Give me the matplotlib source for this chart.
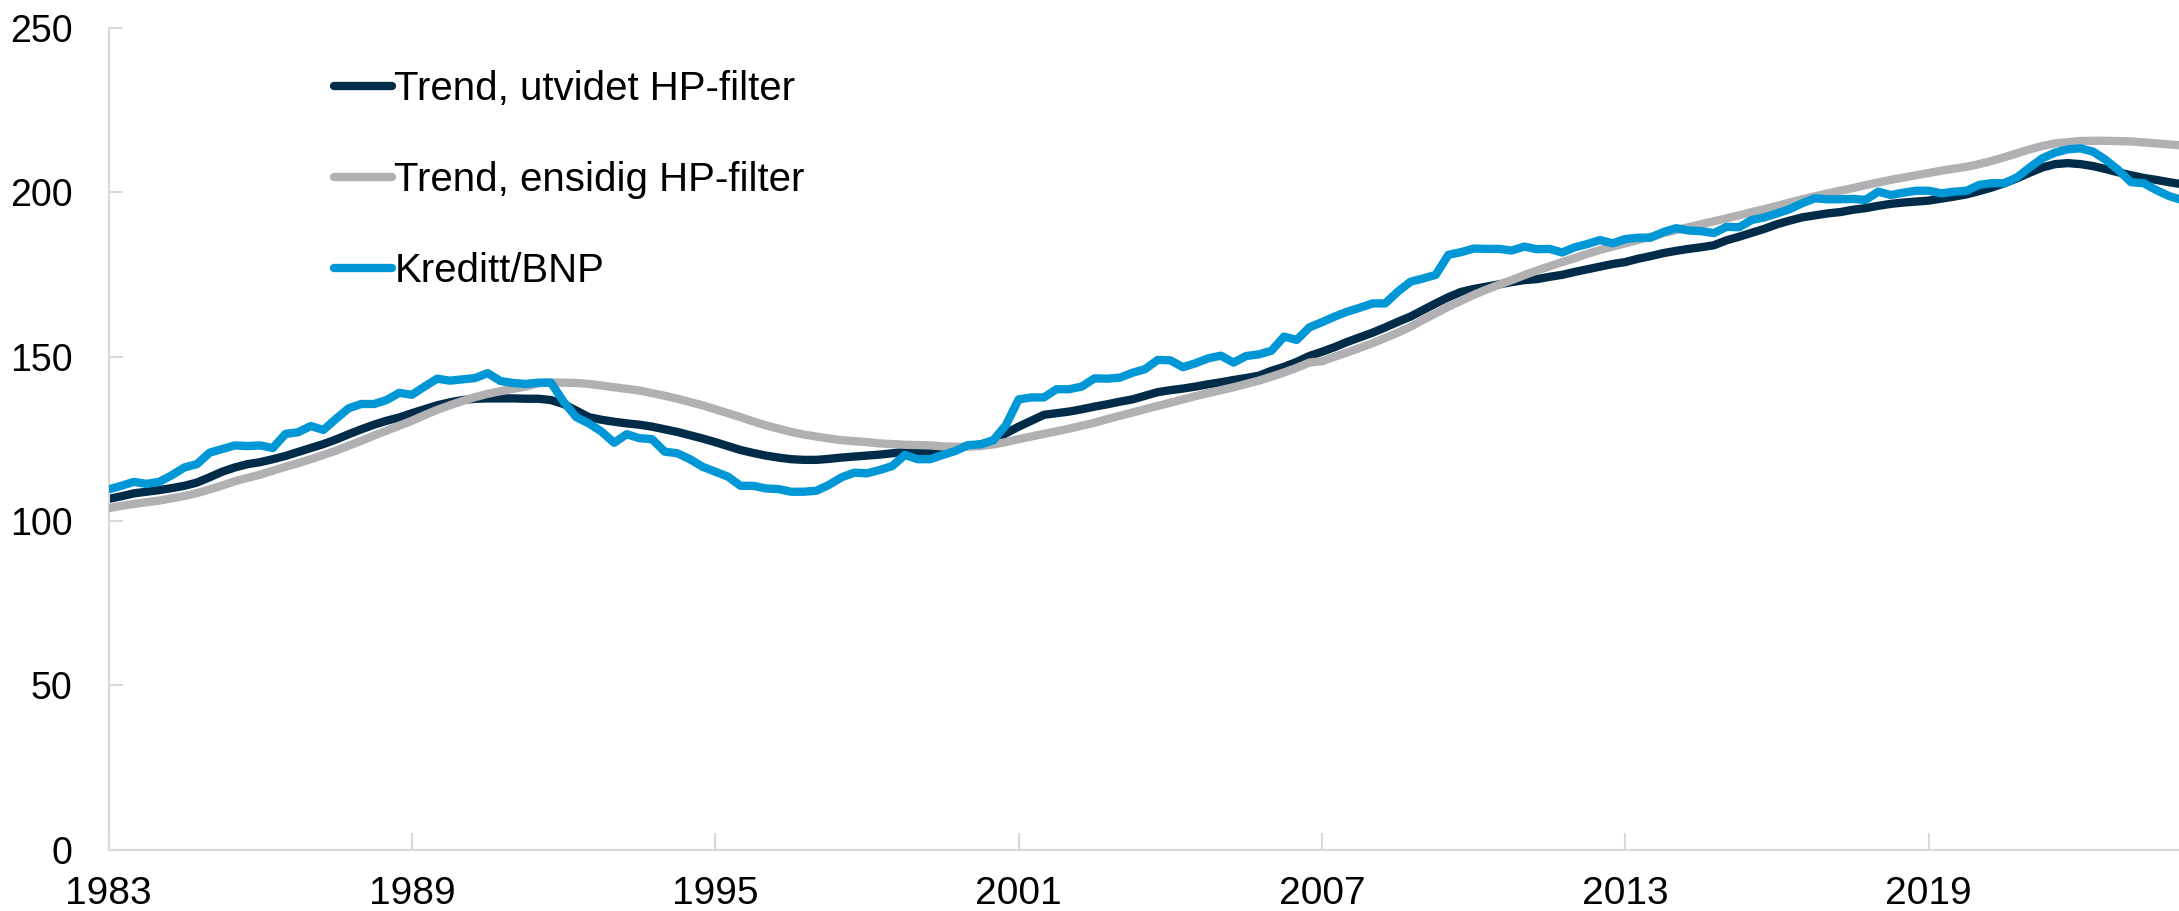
import matplotlib
matplotlib.use("Agg")
import matplotlib.pyplot as plt
import numpy as np

plt.rcParams['font.family'] = ['Liberation Sans', 'DejaVu Sans']

start_year = 1983
tick_years = [1983, 1989, 1995, 2001, 2007, 2013, 2019]

trend_utvidet = [
    106.7, 107.5, 108.4, 108.9, 109.4, 110.0, 110.7, 111.7, 113.3, 115.0,
    116.3, 117.3, 117.9, 118.8, 119.8, 121.0, 122.2, 123.4, 124.8, 126.4,
    127.9, 129.3, 130.5, 131.5, 132.8, 134.0, 135.2, 136.1, 136.8, 137.2,
    137.3, 137.3, 137.3, 137.2, 137.2, 136.8, 135.6, 133.6, 131.6, 130.8,
    130.2, 129.7, 129.3, 128.7, 127.9, 127.1, 126.1, 125.1, 124.0, 122.8,
    121.6, 120.7, 119.9, 119.3, 118.8, 118.6, 118.6, 118.9, 119.3, 119.6,
    119.9, 120.2, 120.6, 121.1, 121.1, 121.1, 121.4, 122.1, 122.8, 123.3,
    124.4, 126.7, 128.7, 130.5, 132.3, 132.8, 133.3, 134.0, 134.8, 135.5,
    136.3, 137.0, 138.1, 139.2, 139.8, 140.3, 140.9, 141.6, 142.2, 142.9,
    143.5, 144.2, 145.7, 146.9, 148.4, 150.2, 151.5, 152.9, 154.5, 155.9,
    157.3, 158.9, 160.6, 162.2, 164.2, 166.2, 168.1, 169.7, 170.6, 171.3,
    172.0, 172.7, 173.3, 173.6, 174.3, 174.9, 175.8, 176.6, 177.4, 178.2,
    178.8, 179.8, 180.6, 181.5, 182.2, 182.8, 183.3, 183.9, 185.4, 186.5,
    187.7, 188.9, 190.3, 191.4, 192.4, 193.0, 193.6, 194.0, 194.7, 195.2,
    195.9, 196.5, 196.9, 197.2, 197.5, 198.1, 198.7, 199.4, 200.4, 201.5,
    202.8, 204.3, 206.0, 207.6, 208.6, 208.9, 208.6, 208.0, 207.1, 206.1,
    205.2, 204.4, 203.8, 203.1, 202.5,
]

trend_ensidig = [
    103.9, 104.6, 105.2, 105.7, 106.2, 106.9, 107.6, 108.5, 109.6, 110.8,
    112.1, 113.1, 114.1, 115.3, 116.5, 117.6, 118.8, 120.1, 121.4, 122.9,
    124.4, 126.0, 127.5, 129.0, 130.5, 132.2, 133.8, 135.2, 136.5, 137.7,
    138.7, 139.5, 140.2, 140.9, 141.9, 142.1, 142.1, 142.0, 141.7, 141.2,
    140.7, 140.2, 139.7, 138.9, 138.1, 137.2, 136.2, 135.2, 134.0, 132.8,
    131.6, 130.3, 129.1, 128.1, 127.1, 126.3, 125.7, 125.1, 124.6, 124.3,
    124.0, 123.6, 123.4, 123.2, 123.1, 123.0, 122.7, 122.6, 122.6, 122.8,
    123.3, 124.0, 124.9, 125.7, 126.5, 127.3, 128.1, 129.0, 129.9, 131.0,
    132.0, 133.0, 134.0, 135.0, 136.0, 137.0, 138.0, 138.9, 139.8, 140.7,
    141.7, 142.7, 143.9, 145.2, 146.6, 148.2, 148.6, 150.0, 151.3, 152.7,
    154.1, 155.7, 157.3, 159.1, 161.2, 163.2, 165.2, 167.0, 168.8, 170.4,
    171.9, 173.3, 174.8, 176.2, 177.5, 178.8, 180.0, 181.3, 182.5, 183.5,
    184.5, 185.5, 186.5, 187.6, 188.5, 189.4, 190.3, 191.2, 192.1, 193.0,
    194.0, 194.9, 195.9, 196.9, 197.9, 198.8, 199.7, 200.5, 201.3, 202.2,
    203.0, 203.8, 204.5, 205.2, 205.9, 206.6, 207.2, 207.8, 208.6, 209.6,
    210.7, 211.9, 213.1, 214.1, 214.9, 215.3, 215.6, 215.7, 215.7, 215.6,
    215.5, 215.2, 214.9, 214.6, 214.3,
]

kreditt_bnp = [
    109.6, 110.7, 111.9, 111.3, 111.9, 113.9, 116.3, 117.3, 120.8, 121.9,
    123.0, 122.8, 123.0, 122.2, 126.5, 127.0, 128.9, 127.7, 131.1, 134.3,
    135.6, 135.6, 136.8, 139.0, 138.4, 140.9, 143.3, 142.7, 143.1, 143.5,
    145.0, 142.6, 142.0, 141.7, 142.1, 142.1, 136.3, 131.6, 129.7, 127.2,
    123.8, 126.4, 125.2, 124.9, 121.1, 120.6, 118.8, 116.5, 115.0, 113.5,
    110.7, 110.7, 109.9, 109.7, 108.9, 108.9, 109.2, 111.0, 113.3, 114.7,
    114.5, 115.5, 116.7, 120.1, 118.8, 118.8, 120.1, 121.3, 123.1, 123.3,
    124.6, 129.2, 137.0, 137.6, 137.6, 140.1, 140.1, 140.9, 143.4, 143.3,
    143.6, 145.1, 146.2, 149.0, 148.9, 146.8, 148.0, 149.5, 150.3, 148.2,
    150.2, 150.7, 151.8, 156.1, 155.1, 158.9, 160.5, 162.2, 163.7, 164.9,
    166.2, 166.2, 169.8, 172.8, 173.8, 174.9, 181.0, 181.8, 182.9, 182.8,
    182.8, 182.3, 183.5, 182.7, 182.8, 181.7, 183.3, 184.3, 185.5, 184.5,
    185.8, 186.2, 186.2, 187.9, 189.1, 188.4, 188.2, 187.6, 189.5, 189.4,
    191.6, 192.4, 193.6, 194.9, 196.7, 198.2, 197.9, 197.9, 198.0, 197.7,
    200.2, 199.2, 199.9, 200.5, 200.5, 199.7, 200.2, 200.5, 202.3, 202.8,
    202.8, 204.6, 207.6, 210.4, 212.1, 213.1, 213.4, 212.4, 209.9, 206.8,
    203.1, 202.8, 200.7, 198.9, 197.7,
]

labels = ["Trend, utvidet HP-filter", "Trend, ensidig HP-filter", "Kreditt/BNP"]
colors = ["#002b49", "#b1b1b3", "#0097d7"]

x = np.arange(len(kreditt_bnp))

fig = plt.figure(figsize=(21.79, 9.11), dpi=100)
ax = fig.add_axes([0.0498, 0.0674, 0.9502, 0.9018])

lw = 6.0
ax.plot(x, trend_utvidet, color=colors[0], lw=lw, label=labels[0], zorder=2,
        solid_joinstyle='round', solid_capstyle='butt')
ax.plot(x, trend_ensidig, color=colors[1], lw=lw, label=labels[1], zorder=3,
        solid_joinstyle='round', solid_capstyle='butt')
ax.plot(x, kreditt_bnp, color=colors[2], lw=lw, label=labels[2], zorder=4,
        solid_joinstyle='round', solid_capstyle='butt')

ax.set_ylim(0, 250)
ax.set_xlim(0, 163.8)
ax.set_yticks([0, 50, 100, 150, 200, 250])
tick_pos = [(y - start_year) * 4 for y in tick_years]
ax.set_xticks(tick_pos)
ax.set_xticklabels([str(y) for y in tick_years])

for s in ['top', 'right']:
    ax.spines[s].set_visible(False)
for s in ['left', 'bottom']:
    ax.spines[s].set_color('#d9d9d9')
    ax.spines[s].set_linewidth(1.5)

ax.tick_params(axis='y', direction='in', length=10, width=1.5, color='#d9d9d9',
               labelsize=27, pad=26)
ax.tick_params(axis='x', direction='in', length=12, width=1.5, color='#d9d9d9',
               labelsize=28, pad=19)

leg = ax.legend(loc='upper left', bbox_to_anchor=(0.1533, 0.923),
                bbox_transform=fig.transFigure, frameon=False, fontsize=29,
                handlelength=1.45, handletextpad=0.05, labelspacing=1.31,
                borderpad=0, borderaxespad=0)
for h in leg.get_lines():
    h.set_linewidth(6.0)
    h.set_solid_capstyle('round')

fig.savefig("out.png", dpi=100)
